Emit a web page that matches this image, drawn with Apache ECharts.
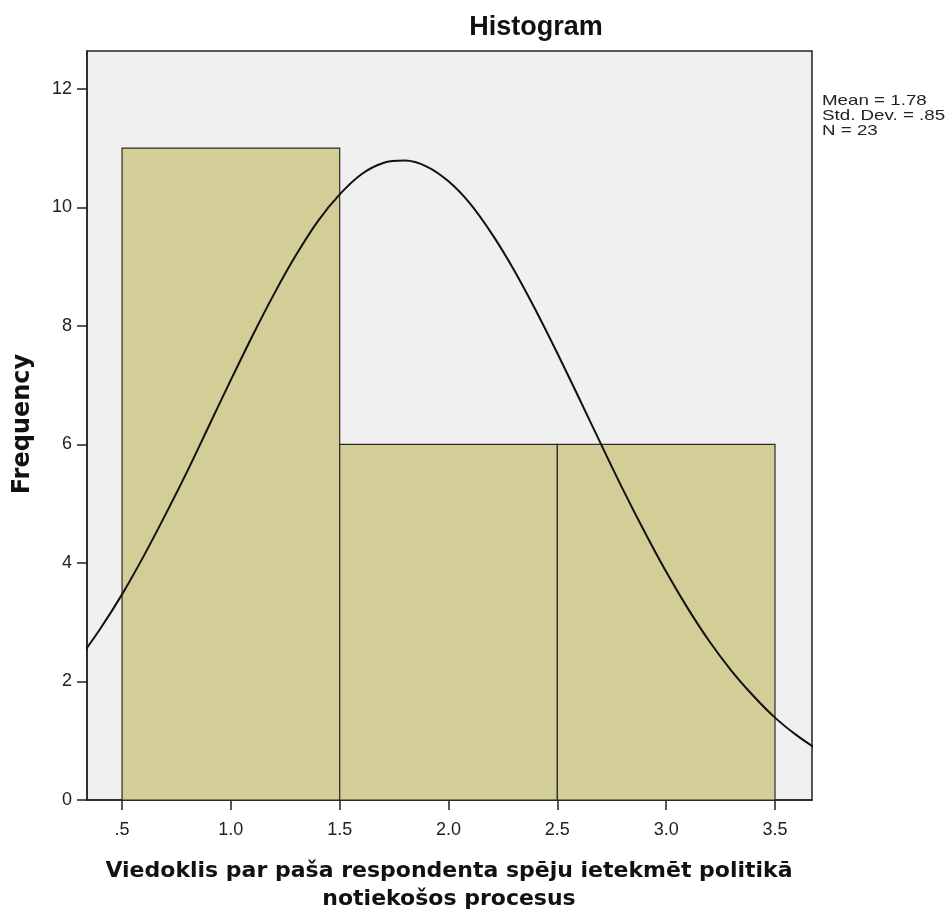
<!DOCTYPE html>
<html>
<head>
<meta charset="utf-8">
<script src="https://cdn.jsdelivr.net/npm/echarts@6/dist/echarts.min.js"></script>
<style>
html,body{margin:0;padding:0;background:#fff;}
#chart{width:952px;height:912px;}
</style>
</head>
<body>
<div id="chart"></div>
<script>
// ---- data ----
var binStarts = [0.5, 1.5, 2.5];
var binEnds = [1.5, 2.5, 3.5];
var frequencies = [11, 6, 6];

var curveX = [0.3,0.4,0.5,0.6,0.7,0.8,0.9,1.0,1.1,1.2,1.3,1.4,1.5,1.6,1.7,1.8,1.9,2.0,2.1,2.2,2.3,2.4,2.5,2.6,2.7,2.8,2.9,3.0,3.1,3.2,3.3,3.4,3.5,3.6,3.7];
var curveY = [2.37,2.89,3.47,4.12,4.82,5.55,6.32,7.09,7.84,8.55,9.20,9.77,10.22,10.56,10.75,10.79,10.69,10.44,10.06,9.55,8.95,8.27,7.54,6.78,6.01,5.25,4.53,3.85,3.23,2.67,2.18,1.76,1.39,1.09,0.84];

var xTickValues = [0.5, 1.0, 1.5, 2.0, 2.5, 3.0, 3.5];
var xTickLabels = ['.5', '1.0', '1.5', '2.0', '2.5', '3.0', '3.5'];
var yTickValues = [0, 2, 4, 6, 8, 10, 12];
var yTickLabels = ['0', '2', '4', '6', '8', '10', '12'];

var titleText = 'Histogram';
var xTitleLines = ['Viedoklis par paša respondenta spēju ietekmēt politikā', 'notiekošos procesus'];
var yTitle = 'Frequency';
var statsLines = ['Mean = 1.78', 'Std. Dev. = .85', 'N = 23'];

// ---- build ----
var barData = binStarts.map(function (s, i) { return [s, binEnds[i], frequencies[i]]; });
var curveData = curveX.map(function (x, i) { return [x, curveY[i]]; });

function lookupLabel(values, labels, v) {
  for (var i = 0; i < values.length; i++) {
    if (Math.abs(values[i] - v) < 1e-6) return labels[i];
  }
  return '';
}

var chart = echarts.init(document.getElementById('chart'), null, {renderer: 'canvas'});
var labelFont = 'Liberation Sans, Arial, sans-serif';
var boldFont = 'DejaVu Sans, sans-serif';

chart.setOption({
  animation: false,
  backgroundColor: '#ffffff',
  grid: {
    left: 87, top: 51, right: 140, bottom: 112,
    show: true, backgroundColor: '#F0F0F0', borderColor: '#222', borderWidth: 1.5,
    containLabel: false, outerBoundsMode: 'none'
  },
  xAxis: {
    type: 'value', min: 0.339, max: 3.67,
    splitLine: {show: false},
    axisLine: {show: true, onZero: false, lineStyle: {color: '#222', width: 1.5}},
    axisTick: {show: true, inside: false, length: 10, customValues: xTickValues, lineStyle: {color: '#222', width: 1.5}},
    axisLabel: {
      customValues: xTickValues, margin: 21, color: '#222',
      fontFamily: labelFont, fontSize: 18, lineHeight: 18,
      formatter: function (v) { return lookupLabel(xTickValues, xTickLabels, v); }
    }
  },
  yAxis: {
    type: 'value', min: 0, max: 12.64,
    splitLine: {show: false},
    axisLine: {show: true, lineStyle: {color: '#222', width: 1.5}},
    axisTick: {show: true, inside: false, length: 10, customValues: yTickValues, lineStyle: {color: '#222', width: 1.5}},
    axisLabel: {
      customValues: yTickValues, margin: 15, color: '#222',
      fontFamily: labelFont, fontSize: 18,
      formatter: function (v) { return lookupLabel(yTickValues, yTickLabels, v); }
    }
  },
  series: [
    {
      type: 'custom',
      data: barData,
      encode: {x: [0, 1], y: 2},
      z: 2,
      renderItem: function (params, api) {
        var p0 = api.coord([api.value(0), api.value(2)]);
        var p1 = api.coord([api.value(1), 0]);
        return {
          type: 'rect',
          shape: {x: p0[0], y: p0[1], width: p1[0] - p0[0], height: p1[1] - p0[1]},
          style: {fill: '#D3CE97', stroke: '#2a2a2a', lineWidth: 1.2}
        };
      }
    },
    {
      type: 'line',
      data: curveData,
      smooth: 0.3,
      showSymbol: false,
      symbol: 'none',
      clip: true,
      z: 3,
      lineStyle: {color: '#111', width: 2}
    }
  ],
  graphic: [
    {type: 'text', x: 536, y: 28, style: {text: titleText, fontFamily: labelFont, fontWeight: 'bold', fontSize: 27, fill: '#111', textAlign: 'center', textVerticalAlign: 'middle'}},
    {type: 'text', x: 449, y: 871, style: {text: xTitleLines[0], fontFamily: boldFont, fontWeight: 'bold', fontSize: 22, fill: '#111', textAlign: 'center', textVerticalAlign: 'middle'}},
    {type: 'text', x: 449, y: 899, style: {text: xTitleLines[1], fontFamily: boldFont, fontWeight: 'bold', fontSize: 22, fill: '#111', textAlign: 'center', textVerticalAlign: 'middle'}},
    {type: 'text', x: 23, y: 424, rotation: Math.PI / 2, style: {text: yTitle, fontFamily: boldFont, fontWeight: 'bold', fontSize: 24, fill: '#111', textAlign: 'center', textVerticalAlign: 'middle'}},
    {type: 'text', x: 822, y: 93, scaleX: 1.25, scaleY: 1, style: {text: statsLines.join('\n'), fontFamily: labelFont, fontSize: 15, lineHeight: 15, fill: '#222', textAlign: 'left', textVerticalAlign: 'top'}}
  ]
});
</script>
</body>
</html>
